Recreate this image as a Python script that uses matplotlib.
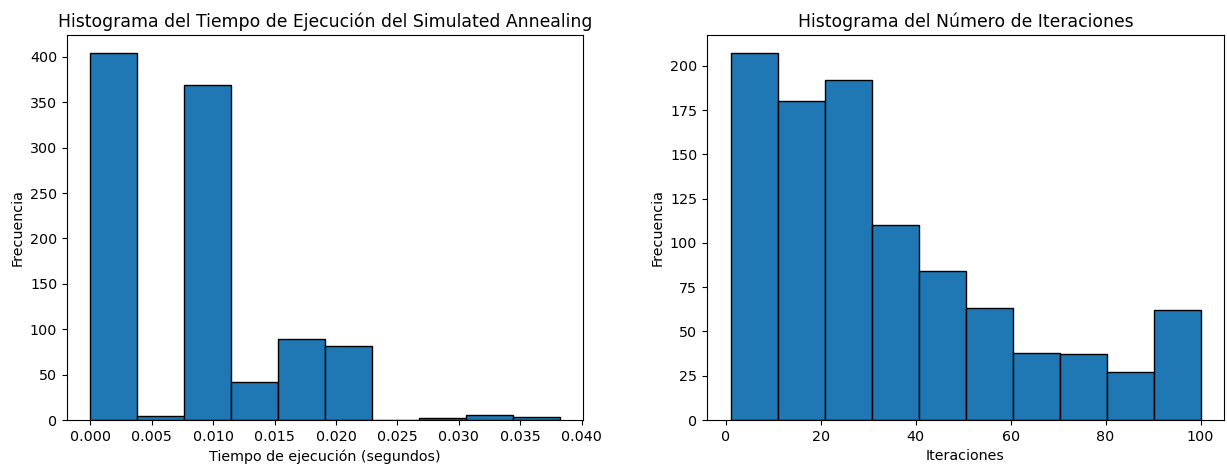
import numpy as np
import matplotlib
matplotlib.use("Agg")
import matplotlib.pyplot as plt

# left histogram: execution time (seconds), 10 bins
time_min, time_max = 0.0, 0.0382
time_counts = [404, 4, 369, 42, 89, 82, 0, 2, 5, 3]

# right histogram: number of iterations, 10 bins
iter_min, iter_max = 1, 100
iter_counts = [207, 180, 192, 110, 84, 63, 38, 37, 27, 62]

BAR_COLOR = "#1f77b4"

plt.rcParams["font.size"] = 10.3
plt.rcParams["axes.titlesize"] = 12.4


def draw_hist(ax, lo, hi, counts):
    edges = np.linspace(lo, hi, len(counts) + 1)
    centers = (edges[:-1] + edges[1:]) / 2
    ax.hist(centers, bins=edges, weights=counts, color=BAR_COLOR, edgecolor="black", linewidth=1)


W, H = 1227, 468
fig = plt.figure(figsize=(W / 100, H / 100), dpi=100)

ax1 = fig.add_axes([67 / W, 1 - 420 / H, (583 - 67) / W, (420 - 35) / H])
draw_hist(ax1, time_min, time_max, time_counts)
ax1.set_title("Histograma del Tiempo de Ejecución del Simulated Annealing")
ax1.set_xlabel("Tiempo de ejecución (segundos)")
ax1.set_ylabel("Frecuencia")
ticks = np.arange(0, 0.0401, 0.005)
ax1.set_xticks(ticks)
ax1.set_xticklabels([f"{t:.3f}" for t in ticks])

ax2 = fig.add_axes([707 / W, 1 - 420 / H, (1224 - 707) / W, (420 - 35) / H])
draw_hist(ax2, iter_min, iter_max, iter_counts)
ax2.set_title("Histograma del Número de Iteraciones")
ax2.set_xlabel("Iteraciones")
ax2.set_ylabel("Frecuencia")

fig.savefig("out.png", dpi=100)
